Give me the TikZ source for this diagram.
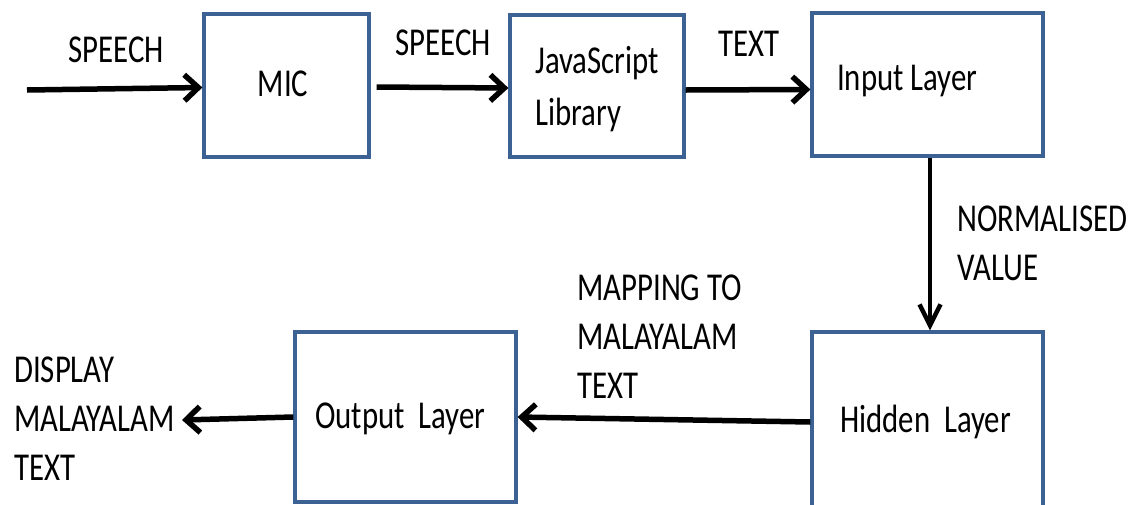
\documentclass[tikz,border=0pt]{standalone}
\usepackage{fontspec}
\setmainfont{Carlito}[FakeStretch=0.78]
\usetikzlibrary{arrows.meta}
\definecolor{boxblue}{RGB}{60,98,148}
\begin{document}
\begin{tikzpicture}[x=1pt,y=-1pt,
  box/.style={draw=boxblue,line width=3.2pt,fill=none,inner sep=0pt,
    minimum width=#1},
  lbl/.style={inner sep=0pt,align=left,font=\fontsize{39.5}{49}\selectfont},
  txt/.style={font=\fontsize{39.5}{49}\selectfont,align=left,inner sep=0pt},
  harrow/.style={line width=5.5pt,-{Straight Barb[length=14pt,width=26pt]}},
  varrow/.style={line width=4.5pt,-{Straight Barb[length=21pt,width=21pt]}}]
\clip (0,0) rectangle (1130,504);
\fill[white] (0,0) rectangle (1130,504);
% boxes
\node[box=165pt,minimum height=143pt] (mic) at (286.5,85.5) {};
\node[txt] (mictext) at (283,84) {MIC};
\node[box=174pt,minimum height=142pt] (js) at (597,86) {};
\node[txt,font=\fontsize{39.5}{52}\selectfont] (jstext) at (597,89) {JavaScript\\Library};
\node[box=231pt,minimum height=143pt] (in) at (927.5,84.5) {};
\node[txt,anchor=base west] (intext) at (837,90) {Input Layer};
\node[box=231pt,minimum height=178pt] (hid) at (927.5,421) {};
\node[txt,anchor=base west] (hidtext) at (840,432) {Hidden~~Layer};
\node[box=221pt,minimum height=170pt] (out) at (405.5,417) {};
\node[txt,anchor=base west] (outtext) at (315,428) {Output~~Layer};
% free ends
\coordinate (start) at (27,90);
\coordinate (disp) at (182,420);
% arrows
\draw[harrow] (start) -- ([yshift=-2pt]mic.west);
\draw[harrow] ([xshift=6pt,yshift=-1.5pt]mic.east) -- ([yshift=-2pt]js.west);
\draw[harrow] ([yshift=-4pt]js.east) -- ([yshift=-5pt]in.west);
\draw[varrow] ([xshift=2.5pt]in.south) -- ([xshift=2.5pt]hid.north);
\draw[harrow] ([yshift=-1pt]hid.west) -- (out.east);
\draw[harrow] (out.west) -- (disp);
% labels
\node[lbl,anchor=base west] (l1) at (68,62) {SPEECH};
\node[lbl,anchor=base west] (l2) at (395,55) {SPEECH};
\node[lbl,anchor=base west] (l3) at (718,56) {TEXT};
\node[lbl,anchor=base west] (l4) at (957,280) {NORMALISED\\VALUE};
\node[lbl,anchor=base west] (l5) at (577,398) {MAPPING TO\\MALAYALAM\\TEXT};
\node[lbl,anchor=base west] (l6) at (14,480) {DISPLAY\\MALAYALAM\\TEXT};
\end{tikzpicture}
\end{document}
